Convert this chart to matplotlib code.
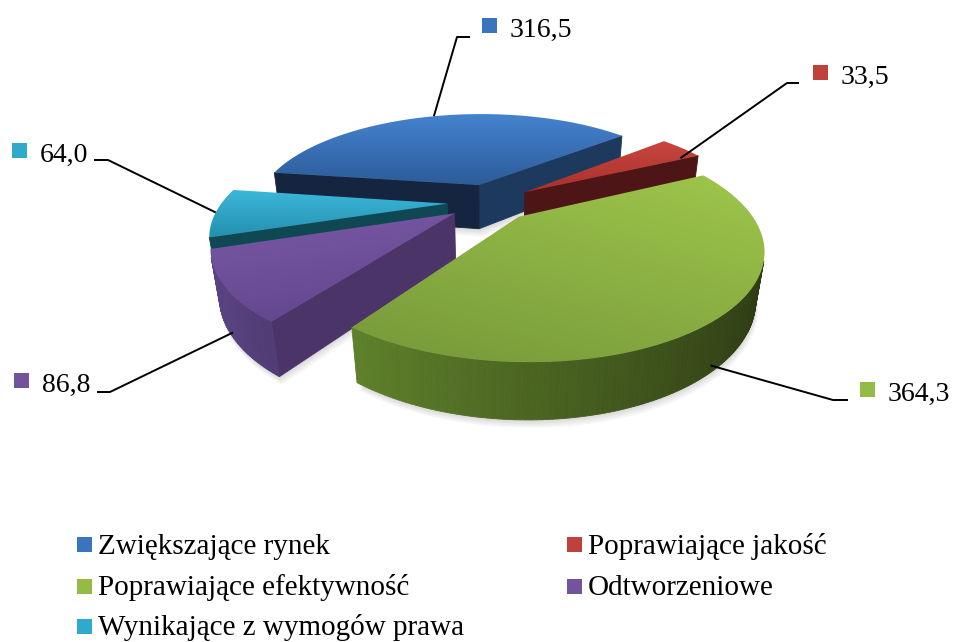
import numpy as np
import matplotlib
matplotlib.use("Agg")
import matplotlib.pyplot as plt
from matplotlib.patches import Polygon, Rectangle
from matplotlib.colors import to_rgb

# ---------------- data ----------------
categories = ["Zwiększające rynek", "Poprawiające jakość",
              "Poprawiające efektywność", "Odtworzeniowe",
              "Wynikające z wymogów prawa"]
values = [316.5, 33.5, 364.3, 86.8, 64.0]
value_labels = ["316,5", "33,5", "364,3", "86,8", "64,0"]

# ---------------- style ----------------
base_colors = ["#3a74bd", "#c0403c", "#94bb45", "#74539d", "#2fa9cc"]
top_grad = [("#4583cf", "#2c5c9a"), ("#c9463f", "#a8302c"), ("#9fc64b", "#76983a"),
            ("#7a58a6", "#5f4589"), ("#3cb8dc", "#2590ad")]
top_dir = [(0.0, 1.0), (0.0, 1.0), (-0.6, 1.0), (0.3, 1.0), (0.0, 1.0)]
wall_light = ["#2a5590", "#7a2222", "#6d9431", "#5e4688", "#1d7a8c"]
wall_dark = ["#10203a", "#3a0e0e", "#2a3712", "#1e1430", "#0a3038"]
cut_colors = [("#15253f", "#1d3a5e"), ("#5a1818", "#4d1515"), ("#55752a", "#3a5018"),
              ("#4a3468", "#3b2955"), ("#0f4853", "#0f4853")]
anchor_frac = [0.0, 0.25, 0.85, 0.87, 0.0]
label_marker = [(489.5, 25.5), (821, 72.5), (867.5, 389.5), (22, 380), (19.5, 150)]
leader_elbow = [((470, 37), (457, 37)), ((799, 83), (787, 83)), ((848, 400), (833, 400)),
                ((97, 392), (110, 392)), ((94, 160), (108, 160))]

CX, CY = 490.0, 202.0
S0 = 225.0
PHI = np.radians(25.7)
DIST = 3.41
H = 0.23
EXPLODE = 0.19
START = 278.3
FONT = "Liberation Serif"
FS_LABEL = 20
FS_LEGEND = 21

CAM = np.array([0.0, -DIST * np.cos(PHI), DIST * np.sin(PHI)])


def project(X, Y, Z):
    X = np.asarray(X, float); Y = np.asarray(Y, float); Z = np.asarray(Z, float)
    depth = DIST + Y * np.cos(PHI) - Z * np.sin(PHI)
    k = S0 * DIST / depth
    return CX + k * X, CY - k * (Y * np.sin(PHI) + Z * np.cos(PHI))


def mix(c1, c2, t):
    a = np.array(to_rgb(c1)); b = np.array(to_rgb(c2))
    return tuple(np.clip(a * (1 - t) + b * t, 0, 1))


fig = plt.figure(figsize=(9.54, 6.42), dpi=100)
ax = fig.add_axes([0, 0, 1, 1])
ax.set_xlim(0, 954)
ax.set_ylim(642, 0)
ax.axis("off")

total = float(sum(values))
spans = [v / total * 360.0 for v in values]
starts = [START + sum(spans[:i]) for i in range(len(values))]

slices = []
for i, (s, sp) in enumerate(zip(starts, spans)):
    e = s + sp
    m = np.radians(s + sp / 2)
    ox, oy = EXPLODE * np.sin(m), EXPLODE * np.cos(m)
    slices.append(dict(i=i, s=s, e=e, ox=ox, oy=oy, m=m))


def visible(n, p):
    return np.dot(n, CAM - p) > 0


# soft shadow under the pie
for d in slices:
    angs = np.radians(np.linspace(d["s"], d["e"], 90))
    Xs = np.concatenate([[d["ox"]], d["ox"] + np.sin(angs)])
    Ys = np.concatenate([[d["oy"]], d["oy"] + np.cos(angs)])
    px, py = project(Xs, Ys, np.full_like(Xs, -H))
    for off in [2, 4, 6, 8]:
        ax.add_patch(Polygon(list(zip(px + off * 0.3, py + off)), closed=True,
                             facecolor="black", edgecolor="none", alpha=0.035, zorder=1))

# draw walls, back to front
order = sorted(slices, key=lambda d: -(d["oy"] + 0.6 * np.cos(d["m"])))
for d in order:
    i = d["i"]; ox, oy = d["ox"], d["oy"]
    faces = []
    for ang, n_sign, col in ((d["s"], -1, cut_colors[i][0]), (d["e"], 1, cut_colors[i][1])):
        a = np.radians(ang)
        n = np.array([n_sign * np.cos(a), -n_sign * np.sin(a), 0.0])
        rx, ry = ox + np.sin(a), oy + np.cos(a)
        p = np.array([(ox + rx) / 2, (oy + ry) / 2, -H / 2])
        if visible(n, p):
            Xs = [ox, rx, rx, ox]; Ys = [oy, ry, ry, oy]; Zs = [0, 0, -H, -H]
            px, py = project(Xs, Ys, Zs)
            depth = DIST + p[1] * np.cos(PHI)
            faces.append((depth, list(zip(px, py)), col))
    angs = np.linspace(d["s"], d["e"], max(4, int((d["e"] - d["s"]) / 1.0) + 1))
    for a0, a1 in zip(angs[:-1], angs[1:]):
        am = np.radians((a0 + a1) / 2)
        n = np.array([np.sin(am), np.cos(am), 0.0])
        p = np.array([ox + np.sin(am), oy + np.cos(am), -H / 2])
        if visible(n, p):
            r0, r1 = np.radians(a0), np.radians(a1)
            Xs = [ox + np.sin(r0), ox + np.sin(r1), ox + np.sin(r1), ox + np.sin(r0)]
            Ys = [oy + np.cos(r0), oy + np.cos(r1), oy + np.cos(r1), oy + np.cos(r0)]
            Zs = [0, 0, -H, -H]
            px, py = project(Xs, Ys, Zs)
            t = (np.sin(am) + 1) / 2
            col = mix(wall_light[i], wall_dark[i], t)
            depth = DIST + p[1] * np.cos(PHI)
            faces.append((depth, list(zip(px, py)), col))
    for depth, pts, col in sorted(faces, key=lambda f: -f[0]):
        ax.add_patch(Polygon(pts, closed=True, facecolor=col, edgecolor=col, lw=0.6, zorder=2))

# top faces with gradient, data labels
for d in slices:
    i = d["i"]; ox, oy = d["ox"], d["oy"]
    angs = np.radians(np.linspace(d["s"], d["e"], 120))
    Xs = np.concatenate([[ox], ox + np.sin(angs)])
    Ys = np.concatenate([[oy], oy + np.cos(angs)])
    px, py = project(Xs, Ys, np.zeros_like(Xs))
    poly = Polygon(list(zip(px, py)), closed=True, facecolor="none", edgecolor="none", zorder=3)
    ax.add_patch(poly)
    x0, x1, y0, y1 = px.min(), px.max(), py.min(), py.max()
    gx, gy = top_dir[i]
    xx, yy = np.meshgrid(np.linspace(0, 1, 120), np.linspace(0, 1, 120))
    tt = (xx * gx + yy * gy - min(0, gx) - min(0, gy)) / (abs(gx) + abs(gy))
    c1 = np.array(to_rgb(top_grad[i][0])); c2 = np.array(to_rgb(top_grad[i][1]))
    img = c1[None, None, :] * (1 - tt[..., None]) + c2[None, None, :] * tt[..., None]
    im = ax.imshow(img, extent=(x0, x1, y0, y1), origin="lower", aspect="auto",
                   interpolation="bilinear", zorder=3)
    im.set_clip_path(poly)
    m = d["m"]
    zf = -H * anchor_frac[i]
    axp, ayp = project(ox + np.sin(m), oy + np.cos(m), zf)
    (ex0, ey0), (ex1, ey1) = leader_elbow[i]
    ax.plot([ex0, ex1, float(axp)], [ey0, ey1, float(ayp)], color="black", lw=1.4,
            zorder=5, solid_capstyle="butt")
    mx, my = label_marker[i]
    ax.add_patch(Rectangle((mx - 7.5, my - 7.5), 15, 15, facecolor=base_colors[i],
                           edgecolor="none", zorder=6))
    ax.text(mx + 20, my + 11.5, value_labels[i], fontsize=FS_LABEL, family=FONT,
            ha="left", va="baseline", zorder=6)

ax.set_xlim(0, 954)
ax.set_ylim(642, 0)

# legend
leg_pos = [(84.5, 544.5), (574.5, 544.5), (84.5, 586), (574.5, 586), (84.5, 626)]
for i, cat in enumerate(categories):
    mx, my = leg_pos[i]
    ax.add_patch(Rectangle((mx - 7.5, my - 7.5), 15, 15, facecolor=base_colors[i],
                           edgecolor="none", zorder=6))
    ax.text(mx + 13.5, my + 9, cat, fontsize=FS_LEGEND, family=FONT, ha="left",
            va="baseline", zorder=6)

fig.savefig("out.png", dpi=100, facecolor="white")
